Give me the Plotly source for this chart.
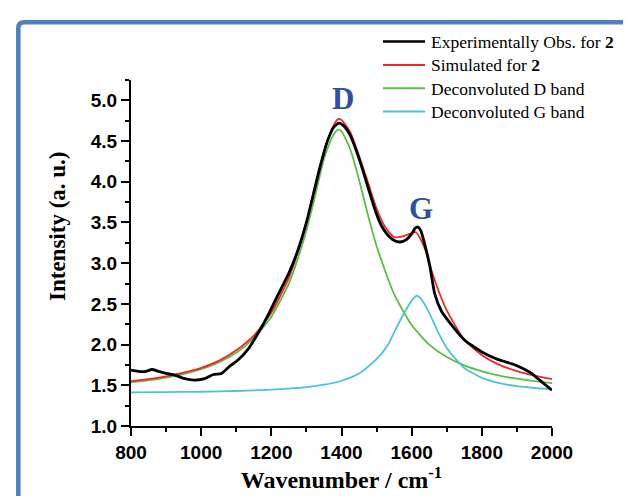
import plotly.graph_objects as go

# ---------------- data ----------------
obs_x = [800, 820, 840, 860, 880, 900, 925, 950, 980, 1010, 1035, 1058, 1080, 1105, 1135,
         1165, 1195, 1220, 1250, 1275, 1300, 1320, 1340, 1360, 1378, 1393, 1408, 1425, 1440,
         1455, 1470, 1485, 1500, 1515, 1533, 1550, 1567, 1585, 1600, 1610, 1617, 1626, 1638,
         1652, 1666, 1685, 1714, 1752, 1775, 1800, 1823, 1847, 1870, 1895, 1920, 1942, 1970,
         2000]
obs_y = [1.686, 1.672, 1.668, 1.694, 1.668, 1.647, 1.625, 1.585, 1.563, 1.582, 1.633, 1.645,
         1.73, 1.81, 1.95, 2.16, 2.40, 2.62, 2.88, 3.15, 3.50, 3.85, 4.20, 4.50, 4.67, 4.72,
         4.68, 4.57, 4.41, 4.22, 4.01, 3.80, 3.60, 3.45, 3.34, 3.28, 3.26, 3.29, 3.36, 3.43,
         3.447, 3.40, 3.22, 2.96, 2.62, 2.41, 2.24, 2.05, 1.98, 1.91, 1.86, 1.815, 1.785, 1.75,
         1.70, 1.645, 1.545, 1.44]

sim_x = [800, 850, 900, 950, 1000, 1050, 1100, 1150, 1200, 1250, 1275, 1300, 1325, 1350,
         1375, 1390, 1400, 1425, 1450, 1475, 1500, 1525, 1550, 1575, 1600, 1612, 1625, 1640,
         1650, 1675, 1700, 1750, 1800, 1850, 1900, 1950, 2000]
sim_y = [1.55, 1.575, 1.61, 1.655, 1.715, 1.80, 1.93, 2.11, 2.39, 2.82, 3.13, 3.50, 3.95,
         4.37, 4.67, 4.77, 4.76, 4.61, 4.32, 4.00, 3.67, 3.44, 3.32, 3.33, 3.37, 3.38, 3.30,
         3.15, 3.00, 2.68, 2.42, 2.06, 1.87, 1.75, 1.675, 1.62, 1.575]

d_x = [800, 850, 900, 950, 1000, 1050, 1100, 1150, 1200, 1250, 1275, 1300, 1325, 1350, 1375,
       1390, 1400, 1425, 1450, 1475, 1500, 1550, 1600, 1650, 1700, 1750, 1800, 1850, 1900,
       1950, 2000]
d_y = [1.537, 1.562, 1.595, 1.638, 1.697, 1.78, 1.90, 2.08, 2.34, 2.75, 3.05, 3.40, 3.83,
       4.28, 4.56, 4.64, 4.62, 4.40, 4.025, 3.60, 3.21, 2.62, 2.24, 2.00, 1.847, 1.744, 1.672,
       1.619, 1.581, 1.551, 1.528]

g_x = [800, 900, 1000, 1100, 1200, 1300, 1350, 1400, 1450, 1500, 1533, 1550, 1575, 1600,
       1614, 1625, 1650, 1675, 1700, 1750, 1800, 1850, 1900, 1950, 2000]
g_y = [1.412, 1.416, 1.421, 1.43, 1.446, 1.478, 1.507, 1.556, 1.645, 1.82, 2.0, 2.15, 2.36,
       2.54, 2.60, 2.57, 2.39, 2.155, 1.958, 1.713, 1.592, 1.527, 1.49, 1.467, 1.451]

names = ["Experimentally Obs. for <b>2</b>", "Simulated for <b>2</b>",
         "Deconvoluted D band", "Deconvoluted G band"]
colors = ["#000000", "#F02828", "#5BBE45", "#4CC4D4"]
widths = [2.8, 1.8, 1.8, 1.8]

x_ticks = [800, 1000, 1200, 1400, 1600, 1800, 2000]
y_ticks = [1.0, 1.5, 2.0, 2.5, 3.0, 3.5, 4.0, 4.5, 5.0]

# ---------------- figure ----------------
W, H = 631, 496
L, R, T, B = 123, 87, 72, 78
PW, PH = W - L - R, H - T - B

def px2paper_x(px):
    return (px - L) / PW

def py2paper_y(py):
    return (H - B - py) / PH

SERIF = "Liberation Serif, Times New Roman, serif"
SANS = "Liberation Sans, Arial, sans-serif"

series = [(obs_x, obs_y), (sim_x, sim_y), (d_x, d_y), (g_x, g_y)]
fig = go.Figure()
for i in [2, 3, 1, 0]:  # black drawn last (on top)
    xs, ys = series[i]
    fig.add_trace(go.Scatter(x=xs, y=ys, name=names[i], mode="lines", showlegend=False,
                             line=dict(color=colors[i], width=widths[i], shape="spline",
                                       smoothing=0.6)))

tickfont = dict(family=SANS, size=19, color="#000", weight="bold")
fig.update_xaxes(range=[800, 2000], tickvals=x_ticks, ticktext=[str(v) for v in x_ticks],
                 showline=True, linecolor="#000", linewidth=2, ticks="outside", ticklen=8,
                 tickwidth=2, tickcolor="#000", tickfont=tickfont, showgrid=False, zeroline=False,
                 minor=dict(dtick=100, tick0=800, ticks="outside", ticklen=4, tickwidth=2,
                            tickcolor="#000", showgrid=False),
                 title=dict(text="Wavenumber / cm<sup>-1</sup>", standoff=8,
                            font=dict(family=SERIF, size=24, color="#000", weight="bold")))
fig.update_yaxes(range=[1.0, 5.25], tickvals=y_ticks, ticktext=["%.1f" % v for v in y_ticks],
                 showline=True, linecolor="#000", linewidth=2, ticks="outside", ticklen=8,
                 tickwidth=2, tickcolor="#000", tickfont=tickfont, showgrid=False, zeroline=False,
                 minor=dict(dtick=0.25, tick0=1.0, ticks="outside", ticklen=4, tickwidth=2,
                            tickcolor="#000", showgrid=False))

# y-axis title
fig.add_annotation(xref="paper", yref="paper", x=px2paper_x(50), y=py2paper_y(218),
                   text="<b>Intensity (a. u.)</b>", textangle=-90, showarrow=False,
                   xanchor="center", yanchor="middle",
                   font=dict(family=SERIF, size=23, color="#000"))

# peak labels
fig.add_annotation(x=1405, y=5.02, text="<b>D</b>", showarrow=False,
                   font=dict(family=SERIF, size=31, color="#2F4FA2"))
fig.add_annotation(x=1626, y=3.67, text="<b>G</b>", showarrow=False,
                   font=dict(family=SERIF, size=31, color="#2F4FA2"))

# legend (drawn like the reference: long line samples, tight rows)
row_y = [33.5, 57.0, 80.3, 103.6]
for i in range(4):
    fig.add_shape(type="line", xref="paper", yref="paper",
                  x0=px2paper_x(375), x1=px2paper_x(417),
                  y0=py2paper_y(row_y[i]), y1=py2paper_y(row_y[i]),
                  line=dict(color=colors[i], width=2.6 if i == 0 else 2.0))
    fig.add_annotation(xref="paper", yref="paper", x=px2paper_x(421), y=py2paper_y(row_y[i] + 0.5),
                       text=names[i], showarrow=False, xanchor="left", yanchor="middle",
                       font=dict(family=SERIF, size=17.5, color="#000"))

# blue rounded frame around the figure
fx0, fx1, fy0, fy1, rr = 10.3, 629.5, 14.3, 503, 6
def P(px, py):
    return "%.5f,%.5f" % (px2paper_x(px), py2paper_y(py))
path = ("M " + P(fx0 + rr, fy0) + " L " + P(fx1 - rr, fy0) +
        " Q " + P(fx1, fy0) + " " + P(fx1, fy0 + rr) +
        " L " + P(fx1, fy1 - rr) + " Q " + P(fx1, fy1) + " " + P(fx1 - rr, fy1) +
        " L " + P(fx0 + rr, fy1) + " Q " + P(fx0, fy1) + " " + P(fx0, fy1 - rr) +
        " L " + P(fx0, fy0 + rr) + " Q " + P(fx0, fy0) + " " + P(fx0 + rr, fy0) + " Z")
fig.add_shape(type="path", xref="paper", yref="paper", path=path,
              line=dict(color="#4F7FBF", width=4.5), fillcolor="rgba(0,0,0,0)", layer="below")

fig.update_layout(
    width=W, height=H,
    margin=dict(l=L, r=R, t=T, b=B),
    paper_bgcolor="white", plot_bgcolor="white",
    showlegend=False,
)

fig.write_html("out.html")
